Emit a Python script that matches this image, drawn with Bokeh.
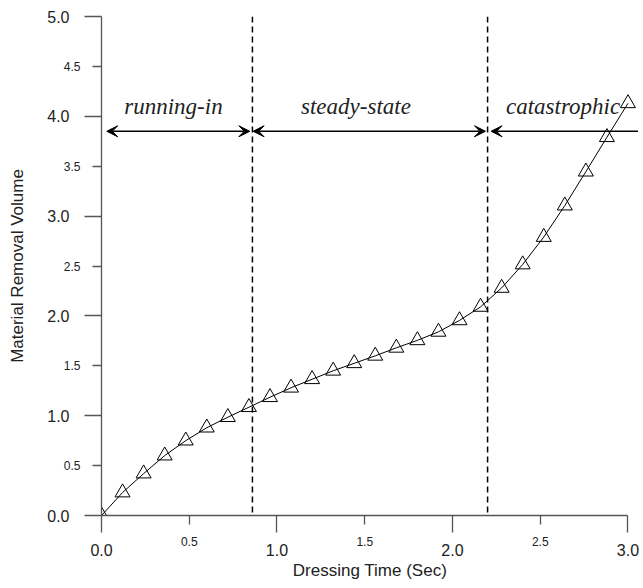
from bokeh.plotting import figure
from bokeh.models import (Range1d, FixedTicker, LinearAxis, NumeralTickFormatter,
                          Span, Arrow, VeeHead, ColumnDataSource)
from bokeh.core.properties import value
from bokeh.embed import file_html
from bokeh.resources import INLINE

# ---- data ----
dressing_time = [0.0, 0.12, 0.24, 0.36, 0.48, 0.60, 0.72, 0.84, 0.96, 1.08, 1.20, 1.32, 1.44,
                 1.56, 1.68, 1.80, 1.92, 2.04, 2.16, 2.28, 2.40, 2.52, 2.64, 2.76, 2.88, 3.00]
removal_volume = [0.0, 0.23, 0.42, 0.60, 0.75, 0.88, 0.985, 1.085, 1.185, 1.28, 1.365, 1.45, 1.525,
                  1.60, 1.68, 1.755, 1.84, 1.955, 2.09, 2.28, 2.515, 2.79, 3.105, 3.445, 3.79, 4.13]
phase_boundaries = [0.86, 2.2]
phase_names = ["running-in", "steady-state", "catastrophic"]
phase_label_x = [0.41, 1.45, 2.63]
phase_label_y = 4.1
arrow_y = 3.85

x_major_ticks = [0, 1, 2, 3]
x_minor_label_ticks = [0.5, 1.5, 2.5]
y_major_ticks = [0, 1, 2, 3, 4, 5]
y_minor_label_ticks = [0.5, 1.5, 2.5, 3.5, 4.5]

AXIS_COLOR = "#555555"
LABEL_COLOR = "#222222"
SANS = "Liberation Sans"

p = figure(width=642, height=587, x_range=Range1d(0, 3.06), y_range=Range1d(0, 5),
           output_backend="svg", toolbar_location=None,
           min_border_left=101, min_border_right=4, min_border_top=16, min_border_bottom=72)
p.outline_line_color = None
p.xgrid.visible = False
p.ygrid.visible = False

def style_near(ax, ticks, minor):
    ax.ticker = FixedTicker(ticks=ticks, minor_ticks=minor)
    ax.formatter = NumeralTickFormatter(format="0.0")
    ax.axis_line_color = AXIS_COLOR
    ax.axis_line_width = 1.3
    ax.major_tick_line_color = AXIS_COLOR
    ax.minor_tick_line_color = AXIS_COLOR
    ax.major_tick_line_width = 1.3
    ax.minor_tick_line_width = 1.3
    ax.major_tick_in = 0
    ax.major_tick_out = 9
    ax.minor_tick_in = 0
    ax.minor_tick_out = 17
    ax.major_label_text_font = SANS
    ax.major_label_text_font_size = "12px"
    ax.major_label_text_color = LABEL_COLOR

def far_axis(ticks, label, standoff, title_standoff):
    ax = LinearAxis(ticker=FixedTicker(ticks=ticks, minor_ticks=[]),
                    formatter=NumeralTickFormatter(format="0.0"))
    ax.axis_line_color = None
    ax.major_tick_line_color = None
    ax.minor_tick_line_color = None
    ax.major_tick_in = 0
    ax.major_tick_out = 0
    ax.minor_tick_in = 0
    ax.minor_tick_out = 0
    ax.major_label_text_font = SANS
    ax.major_label_text_font_size = "16px"
    ax.major_label_text_color = LABEL_COLOR
    ax.major_label_standoff = standoff
    ax.axis_label = label
    ax.axis_label_text_font = SANS
    ax.axis_label_text_font_size = "17px"
    ax.axis_label_text_font_style = "normal"
    ax.axis_label_text_color = LABEL_COLOR
    ax.axis_label_standoff = title_standoff
    return ax

x_end = x_major_ticks[-1]

xa = p.xaxis[0]
style_near(xa, x_minor_label_ticks, x_major_ticks)
xa.major_label_standoff = 4
xa.bounds = (0, x_end)
ya = p.yaxis[0]
style_near(ya, y_minor_label_ticks, y_major_ticks)
ya.major_label_standoff = 4

xa2 = far_axis(x_major_ticks, "Dressing Time (Sec)", -5, 2)
xa2.bounds = (0, x_end)
p.add_layout(xa2, "below")
p.add_layout(far_axis(y_major_ticks, "Material Removal Volume", -9, 17), "left")

# phase boundaries
for b in phase_boundaries:
    p.add_layout(Span(location=b, dimension="height", line_color="black",
                      line_width=1.5, line_dash="6 4"))

# phase arrows
b1, b2 = phase_boundaries
head = dict(size=11, fill_color="black", line_color="black")
p.add_layout(Arrow(x_start=0.03, y_start=arrow_y, x_end=b1 - 0.015, y_end=arrow_y,
                   start=VeeHead(**head), end=VeeHead(**head), line_width=1.5))
p.add_layout(Arrow(x_start=b1 + 0.004, y_start=arrow_y, x_end=b2 - 0.012, y_end=arrow_y,
                   start=VeeHead(**head), end=VeeHead(**head), line_width=1.5))
p.add_layout(Arrow(x_start=b2 + 0.02, y_start=arrow_y, x_end=3.057, y_end=arrow_y,
                   start=VeeHead(**head), end=None, line_width=1.5))

p.text(x=phase_label_x, y=[phase_label_y] * 3, text=phase_names,
       text_font=value("Liberation Serif"), text_font_style="italic",
       text_font_size="23px", text_align="center", text_baseline="alphabetic",
       text_color="#222222")

src = ColumnDataSource(dict(x=dressing_time, y=removal_volume))
p.line("x", "y", source=src, line_color="black", line_width=1)
p.scatter("x", "y", source=src, marker="triangle", size=15, fill_alpha=0,
          line_color="black", line_width=1)

open("out.html", "w").write(file_html(p, INLINE))
